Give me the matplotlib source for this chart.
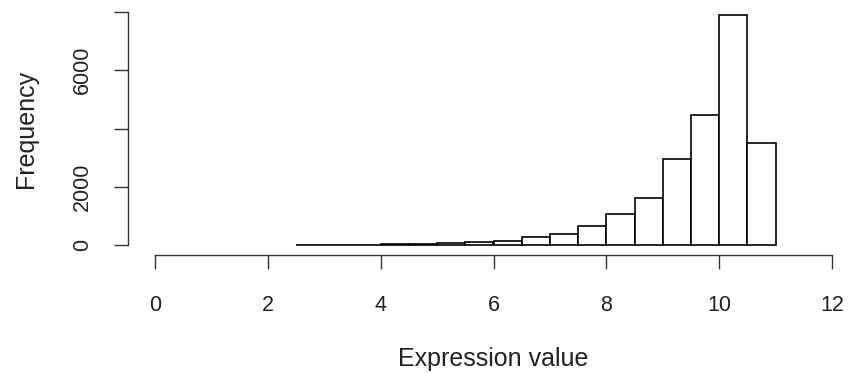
import matplotlib
matplotlib.use("Agg")
import matplotlib.pyplot as plt
import numpy as np

plt.rcParams['font.family'] = ['Liberation Sans', 'DejaVu Sans']

bin_edges = [2.5, 3.0, 3.5, 4.0, 4.5, 5.0, 5.5, 6.0, 6.5, 7.0, 7.5, 8.0, 8.5, 9.0, 9.5, 10.0, 10.5, 11.0]
counts = [10, 12, 15, 20, 35, 55, 100, 150, 260, 390, 660, 1050, 1600, 2950, 4460, 7900, 3490]
x_ticks = [0, 2, 4, 6, 8, 10, 12]
y_ticks = [0, 2000, 4000, 6000, 8000]
y_ticklabels = ["0", "2000", "", "6000", ""]

W, H = 852, 373
fig = plt.figure(figsize=(W / 100, H / 100), dpi=100)
left_px, right_px = 155, 832
bot_px, top_px = 245, 12
ax = fig.add_axes([left_px / W, 1 - bot_px / H, (right_px - left_px) / W, (bot_px - top_px) / H])

edges = np.array(bin_edges)
ax.bar(edges[:-1], counts, width=np.diff(edges), align='edge',
       facecolor='white', edgecolor='black', linewidth=1.2, clip_on=False)

ax.set_xlim(0, 12)
ax.set_ylim(0, 8000)

for s in ['top', 'right']:
    ax.spines[s].set_visible(False)
ax.spines['left'].set_position(('outward', 27 * 0.72))
ax.spines['bottom'].set_position(('outward', 10 * 0.72))
ax.spines['left'].set_bounds(0, 8000)
ax.spines['bottom'].set_bounds(0, 12)
for s in ['left', 'bottom']:
    ax.spines[s].set_linewidth(1.0)
    ax.spines[s].set_color('#333333')

ax.set_xticks(x_ticks)
ax.set_xticklabels([str(t) for t in x_ticks])
ax.set_yticks(y_ticks)
ax.set_yticklabels(y_ticklabels, rotation=90, va='center')
ax.tick_params(axis='both', length=10, width=1.0, color='#333333',
               labelsize=15.5, labelcolor='#222222')
ax.tick_params(axis='x', pad=19)
ax.tick_params(axis='y', pad=15)

fig.text(493.5 / W, 1 - 359 / H, "Expression value", fontsize=18, color='#222222',
         ha='center', va='center')
fig.text(25.5 / W, 1 - 128.5 / H, "Frequency", fontsize=18, color='#222222',
         ha='center', va='center', rotation=90)

fig.savefig("out.png", dpi=100)
